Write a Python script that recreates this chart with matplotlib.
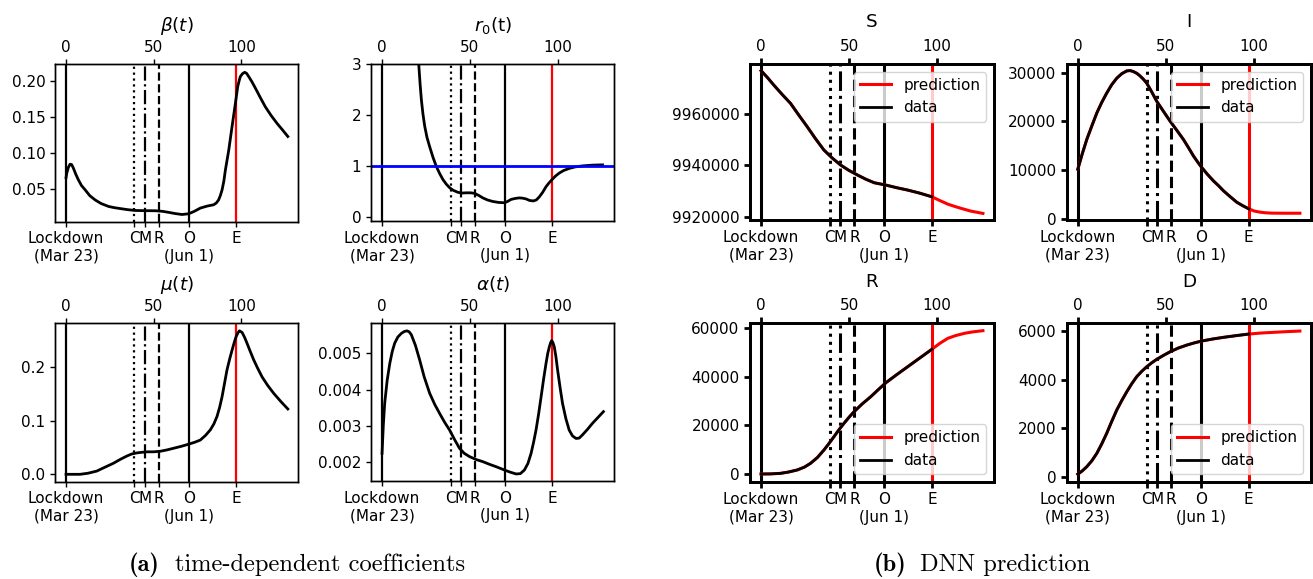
import numpy as np
import matplotlib
matplotlib.use("Agg")
import matplotlib.pyplot as plt

plt.rcParams["font.size"] = 11

# days since lockdown for the event markers
event_days = [0, 39, 45, 53, 70, 97]
event_labels = ["Lockdown\n(Mar 23)", "C", "M", "R", "O\n(Jun 1)", "E"]

# (a) time-dependent coefficients
beta_t = [0, 0.4, 1.3, 2.3, 3.2, 4.2, 5.5, 7, 8.8, 10.9, 13.5, 16.6, 20, 24.2, 27.5, 31.8,
          35.5, 39.4, 45, 50.9, 55, 58.5, 62, 66.1, 69.9, 73, 76.6, 80.5, 84.2, 85.8, 87,
          88, 89, 90, 90.9, 92.8, 94.7, 96.6, 97.9, 98.7, 99.4, 100.6, 101.9, 103, 104.2,
          106, 108, 110.8, 113.7, 117, 120.4, 123.5, 126.5]
beta_v = [0.066, 0.072, 0.080, 0.0846, 0.084, 0.079, 0.071, 0.063, 0.055, 0.049, 0.041,
          0.035, 0.030, 0.026, 0.0243, 0.0227, 0.0214, 0.0204, 0.0201, 0.0200, 0.0192,
          0.0178, 0.0162, 0.0148, 0.0158, 0.019, 0.0237, 0.0265, 0.0283, 0.031, 0.035,
          0.041, 0.049, 0.061, 0.0767, 0.104, 0.137, 0.169, 0.192, 0.200, 0.206, 0.210,
          0.212, 0.2105, 0.206, 0.199, 0.190, 0.177, 0.164, 0.152, 0.141, 0.132, 0.123]

r0_t = [19.5, 20.3, 21, 21.7, 22.4, 23.3, 24.3, 25.6, 27.1, 29, 30.9, 32.8, 34.7, 36.6,
        38.5, 40.5, 43.2, 45.5, 48, 50.5, 52.7, 55, 57.4, 60, 63, 66.5, 69.7, 71.5, 73.5,
        76, 78.2, 80, 82, 84, 86.2, 87.9, 89.6, 91.5, 93.4, 95, 96.8, 98.8, 101, 103.5,
        106.6, 110, 114.2, 120, 125.6]
r0_v = [3.8, 3.3, 2.95, 2.6, 2.30, 2.02, 1.78, 1.56, 1.38, 1.17, 0.99, 0.85, 0.73, 0.64,
        0.57, 0.52, 0.48, 0.465, 0.47, 0.47, 0.46, 0.42, 0.37, 0.33, 0.30, 0.28, 0.275,
        0.30, 0.34, 0.36, 0.37, 0.365, 0.35, 0.32, 0.31, 0.33, 0.39, 0.48, 0.59, 0.66,
        0.73, 0.80, 0.86, 0.91, 0.95, 0.98, 1.0, 1.015, 1.02]

mu_t = [0, 4, 8, 12.5, 17.5, 22, 27, 31, 34.6, 37.5, 40.4, 43, 46.1, 50, 53.7, 57.5, 61.3,
        66, 70.3, 73.5, 76.6, 79.5, 82.3, 84.3, 86.1, 87.6, 89, 90.4, 91.8, 93.3, 94.7,
        96, 97, 98, 98.9, 100.4, 101.8, 103.2, 105, 107, 109.3, 111.8, 115, 118.5, 122.5,
        126.5]
mu_v = [0.0, 0.0, 0.0, 0.002, 0.006, 0.013, 0.0206, 0.028, 0.034, 0.038, 0.040, 0.041,
        0.042, 0.042, 0.043, 0.0455, 0.0486, 0.0525, 0.0566, 0.060, 0.064, 0.0725, 0.083,
        0.094, 0.108, 0.125, 0.145, 0.170, 0.195, 0.215, 0.232, 0.247, 0.257, 0.264, 0.268,
        0.265, 0.256, 0.245, 0.230, 0.214, 0.198, 0.182, 0.166, 0.151, 0.136, 0.122]

alpha_t = [0, 0.7, 1.5, 2.9, 4.4, 5.8, 7.2, 9, 11, 12.6, 14.2, 15.5, 16.7, 19, 21.4, 24,
           27.1, 30, 32.8, 35.6, 38.5, 41.3, 44.1, 46.8, 49.8, 53.5, 57.4, 61, 65, 69.7,
           73, 76.4, 78.8, 81.1, 83.1, 84.9, 86.3, 87.7, 89.2, 90.6, 92, 93.4, 94.4, 95.3,
           96, 96.6, 97.3, 98.1, 99, 100, 101.4, 102.8, 104.7, 106.6, 108.5, 110.5, 112.3,
           114.2, 117, 119.9, 123, 126.1]
alpha_v = [0.00224, 0.0030, 0.00362, 0.00425, 0.00472, 0.00505, 0.00528, 0.00545, 0.00555,
           0.00560, 0.00562, 0.00559, 0.00551, 0.00522, 0.00482, 0.00435, 0.00390, 0.00359,
           0.00334, 0.00310, 0.00288, 0.00262, 0.00238, 0.00224, 0.00215, 0.00207, 0.00201,
           0.00194, 0.00187, 0.00178, 0.00172, 0.00167, 0.00168, 0.00178, 0.00196, 0.00224,
           0.00254, 0.00288, 0.00333, 0.00380, 0.00428, 0.00472, 0.00500, 0.00518, 0.00529,
           0.00535, 0.00530, 0.00518, 0.00492, 0.00454, 0.00406, 0.00362, 0.00320, 0.00288,
           0.00272, 0.00265, 0.00266, 0.00275, 0.00290, 0.00307, 0.00323, 0.00339]

# (b) DNN prediction vs data
S_t = [0, 3.5, 7.2, 12, 16.7, 21.5, 26.2, 31, 35.7, 40.5, 45.2, 50, 54.8, 59.5, 64.3, 70.9,
       77, 83.3, 90, 97, 101.5, 106, 110, 113.7, 119, 126]
S_v = [9976900, 9974300, 9971300, 9967600, 9964170, 9959500, 9955050, 9950300, 9945960,
       9942800, 9940110, 9938000, 9936220, 9934600, 9933220, 9932320, 9931300, 9930370,
       9929200, 9927760, 9926300, 9924910, 9924000, 9923230, 9922200, 9921280]

I_t = [0, 2.5, 5.1, 8, 10.8, 13.6, 16.4, 19.2, 22.1, 25, 27.8, 29.7, 31.6, 33.5, 35.3,
       37.2, 39.1, 42, 44.8, 48.6, 52.4, 56.2, 59.9, 62.8, 65.6, 68, 70.3, 73.6, 76.9, 79.8,
       82.6, 86.4, 90.2, 93.5, 97, 100, 103.4, 106.5, 110.1, 118, 126]
I_v = [10180, 13300, 16290, 19100, 21730, 23900, 25800, 27500, 28860, 29800, 30350, 30420,
       30210, 29850, 29330, 28650, 27840, 26000, 24100, 22050, 20020, 18150, 16290, 14600,
       12900, 11650, 10530, 9100, 7800, 6800, 5760, 4550, 3400, 2700, 2040, 1600, 1360,
       1230, 1160, 1140, 1140]

R_t = [0, 5.5, 11, 15.5, 20.5, 24.5, 28.1, 32, 35.7, 38.5, 41.4, 44.2, 47.1, 50, 52.8,
       57.5, 62.3, 66.5, 70.9, 77, 83.3, 90, 97, 101.5, 106.1, 110.5, 115.6, 120.5, 126]
R_v = [0, 50, 270, 800, 1650, 2800, 4400, 6800, 9880, 12500, 15360, 18200, 20880, 23400,
       25660, 28900, 31840, 34700, 37600, 40900, 44190, 47700, 51350, 53800, 55890, 57000,
       57950, 58550, 59020]

D_t = [0, 2.5, 5.1, 8, 10.8, 13.6, 16.4, 19.2, 22.1, 25, 27.8, 30.6, 33.4, 36.3, 39.1,
       42, 44.8, 48.6, 52.4, 57, 61.9, 66, 70.3, 76.5, 82.6, 90, 97, 104, 111, 118, 126]
D_v = [130, 260, 434, 680, 982, 1370, 1800, 2280, 2754, 3150, 3503, 3830, 4116, 4340, 4525,
       4690, 4828, 4990, 5139, 5290, 5413, 5500, 5577, 5660, 5728, 5800, 5863, 5905, 5933,
       5960, 5986]

W, H = 1313, 579
fig = plt.figure(figsize=(W / 100, H / 100), dpi=100)


def make_axes(left, top, right, bottom):
    return fig.add_axes([left / W, 1 - bottom / H, (right - left) / W, (bottom - top) / H])


def decorate(ax, title, thick):
    lw_ev = 2.2 if thick else 1.6
    lw_sp = 2.0 if thick else 1.0
    for d, ls in zip(event_days[:-1], ["-", ":", "-.", "--", "-"]):
        ax.axvline(d, color="k", ls=ls, lw=lw_ev, zorder=1)
    ax.axvline(event_days[-1], color="r", lw=lw_ev, zorder=1)
    ax.set_xlim(-6.3, 132.3)
    ax.set_xticks(event_days)
    ax.set_xticklabels(event_labels)
    top = ax.twiny()
    top.set_xlim(ax.get_xlim())
    top.set_xticks([0, 50, 100])
    top.set_title(title, fontsize=13.2, pad=8 if thick else 6)
    for a in (ax, top):
        for s in a.spines.values():
            s.set_linewidth(lw_sp)
        a.tick_params(width=lw_sp, length=4 if thick else 3.5)
    return top


# left block
ax = make_axes(55, 64.3, 298, 221.5)
ax.plot(beta_t, beta_v, color="k", lw=2)
ax.set_ylim(0.0051, 0.2231)
ax.set_yticks([0.05, 0.10, 0.15, 0.20])
decorate(ax, r"$\beta(t)$", False)

ax = make_axes(371, 64.3, 614.3, 221)
ax.plot(r0_t, r0_v, color="k", lw=2)
ax.axhline(1, color="b", lw=2)
ax.set_ylim(-0.085, 3)
ax.set_yticks([0, 1, 2, 3])
decorate(ax, r"$r_0$(t)", False)

ax = make_axes(55, 323.3, 298, 481.7)
ax.plot(mu_t, mu_v, color="k", lw=2)
ax.set_ylim(-0.0138, 0.282)
ax.set_yticks([0.0, 0.1, 0.2])
decorate(ax, r"$\mu(t)$", False)

ax = make_axes(371, 323.3, 614.3, 481)
ax.plot(alpha_t, alpha_v, color="k", lw=2)
ax.set_ylim(0.001476, 0.005828)
ax.set_yticks([0.002, 0.003, 0.004, 0.005])
decorate(ax, r"$\alpha(t)$", False)

# right block
panels = [
    ("S", S_t, S_v, (750, 64, 994, 220), (9918713, 9979490), [9920000, 9940000, 9960000], "upper right"),
    ("I", I_t, I_v, (1066.7, 64, 1311, 220), (-250, 31770), [0, 10000, 20000, 30000], "upper right"),
    ("R", R_t, R_v, (750, 323.3, 994, 481.7), (-3170, 62060), [0, 20000, 40000, 60000], "lower right"),
    ("D", D_t, D_v, (1066.7, 323.3, 1311, 481.7), (-180, 6303), [0, 2000, 4000, 6000], "lower right"),
]
for name, t, v, box, ylim, yt, loc in panels:
    ax = make_axes(*box)
    t = np.array(t)
    v = np.array(v)
    ax.plot(t, v, color="r", lw=2.2, label="prediction")
    known = t <= event_days[-1]
    ax.plot(t[known], v[known], color="k", lw=2, label="data")
    ax.set_ylim(*ylim)
    ax.set_yticks(yt)
    ax.set_yticklabels([str(y) for y in yt])
    ax.legend(loc=loc, fontsize=11)
    decorate(ax, name, True)

# captions of the two sub-figures
cap_y = 1 - 565 / H
fig.text(160 / W, cap_y, "(a)", family="cmb10", fontsize=17.6, ha="right", va="center")
fig.text(175 / W, cap_y, "time-dependent coefficients", family="cmr10", fontsize=17.6,
         ha="left", va="center")
fig.text(906 / W, cap_y, "(b)", family="cmb10", fontsize=17.6, ha="right", va="center")
fig.text(920 / W, cap_y, "DNN prediction", family="cmr10", fontsize=17.6, ha="left", va="center")

fig.savefig("out.png", dpi=100)
